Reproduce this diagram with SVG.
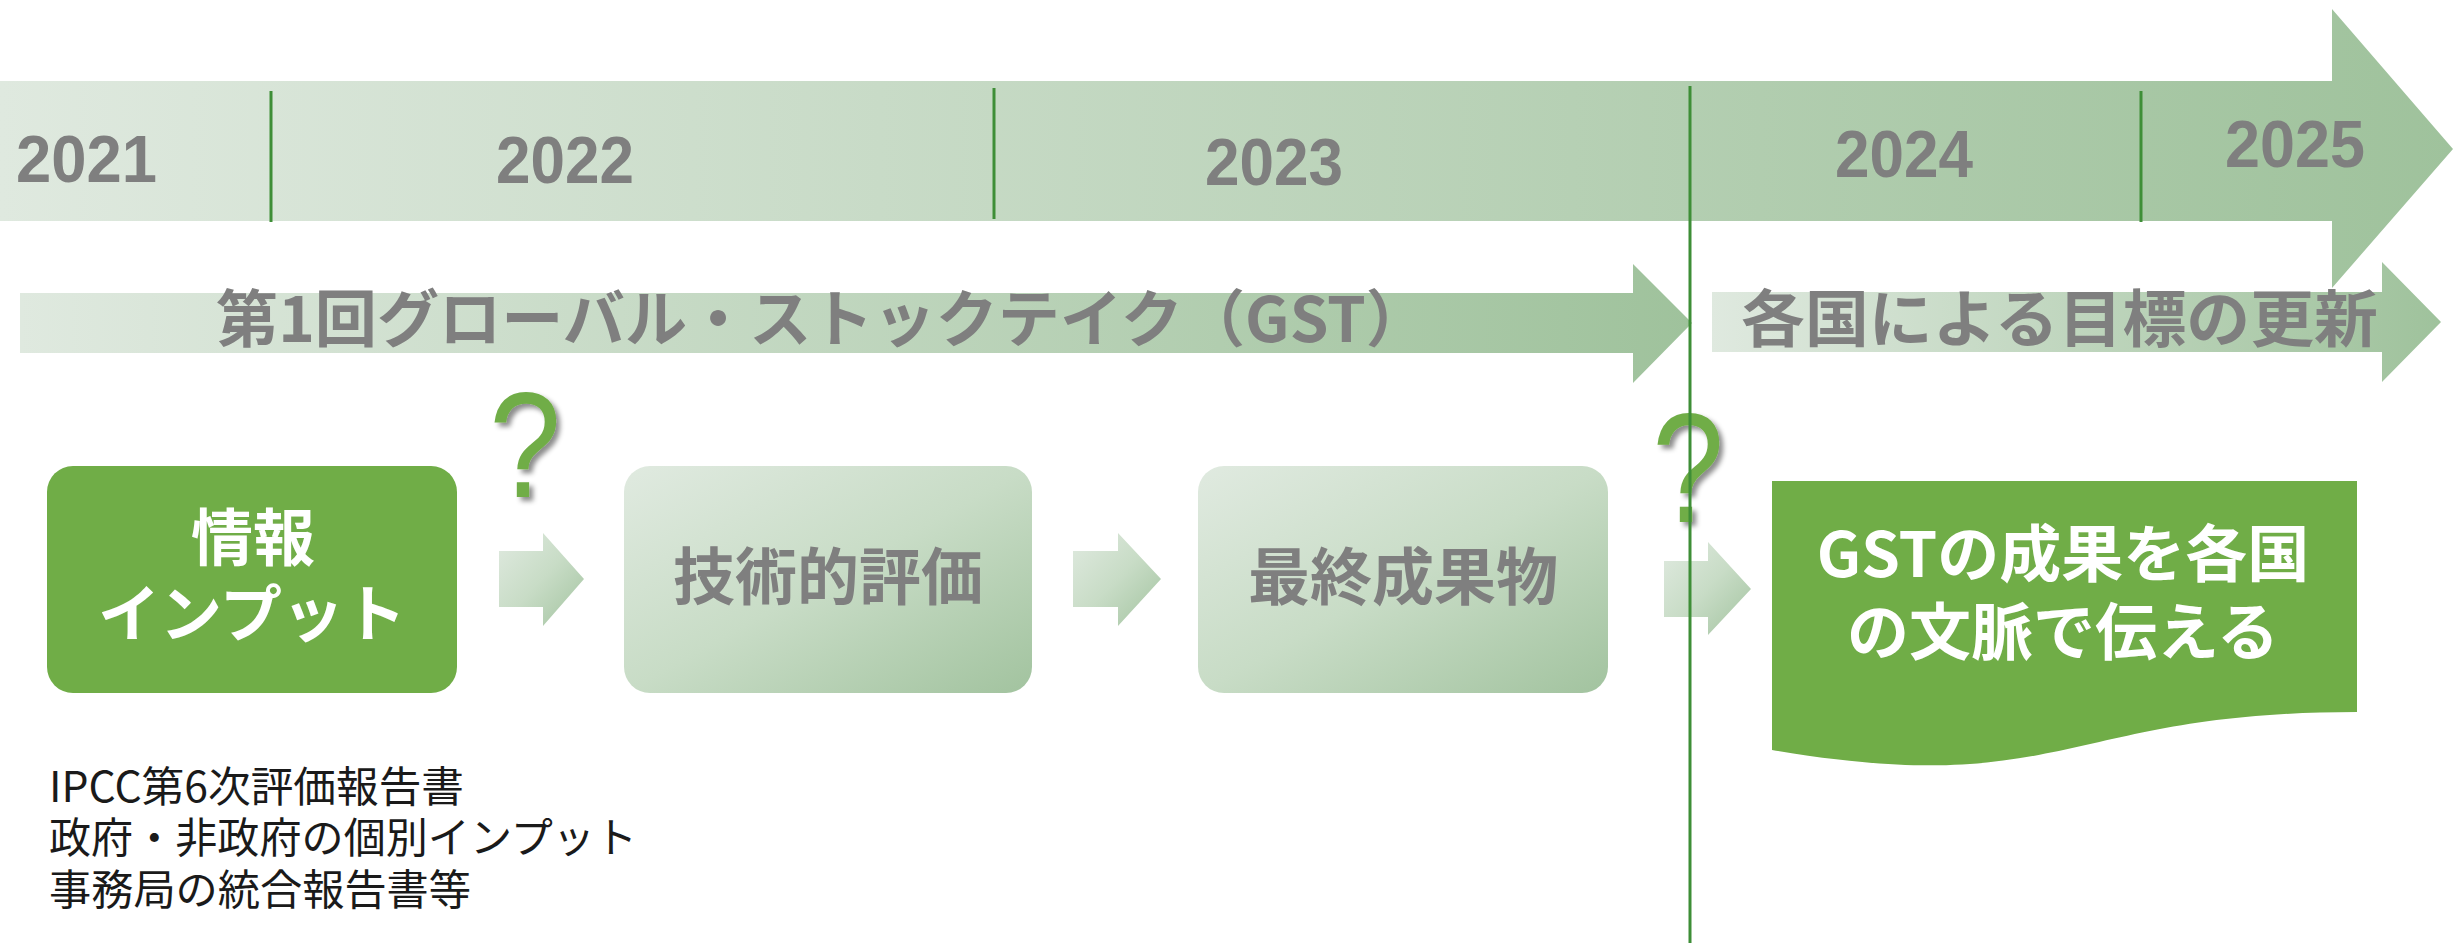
<svg xmlns="http://www.w3.org/2000/svg" width="2453" height="943" viewBox="0 0 2453 943">
  <defs>
    <linearGradient id="gH" x1="0" y1="0" x2="1" y2="0">
      <stop offset="0" stop-color="#dfe9df"/>
      <stop offset="1" stop-color="#9fc29c"/>
    </linearGradient>
    <linearGradient id="gD" x1="0" y1="0" x2="1" y2="1">
      <stop offset="0" stop-color="#e0eae0"/>
      <stop offset="0.5" stop-color="#c8dcc6"/>
      <stop offset="1" stop-color="#a2c39f"/>
    </linearGradient>
    <filter id="sh" x="-30%" y="-30%" width="160%" height="160%">
      <feDropShadow dx="4" dy="4" stdDeviation="2.5" flood-color="#000" flood-opacity="0.45"/>
    </filter>
    <style>
      .yr { font-family: "Liberation Sans", Arial, sans-serif; font-weight: bold; font-size: 66px; fill: #7f7f7f; }
      .lbl { font-family: "Noto Sans CJK JP", "Liberation Sans", sans-serif; font-weight: bold; font-size: 62px; fill: #7f7f7f; }
      .wt { font-family: "Noto Sans CJK JP", "Liberation Sans", sans-serif; font-weight: bold; font-size: 62px; fill: #ffffff; text-anchor: middle; }
      .gt { font-family: "Noto Sans CJK JP", "Liberation Sans", sans-serif; font-weight: bold; font-size: 62px; fill: #7f7f7f; text-anchor: middle; }
      .note { font-family: "Noto Sans CJK JP", "Liberation Sans", sans-serif; font-size: 42px; fill: #1a1a1a; }
      .q { font-family: "Liberation Sans", Arial, sans-serif; font-size: 150px; fill: #70ad47; text-anchor: middle; }
      .vl { stroke: #3e8e37; stroke-width: 3; fill: none; }
    </style>
  </defs>

  <g id="timeline">
    <polygon points="0,81 2332,81 2332,9 2453,149 2332,288 2332,221 0,221" fill="url(#gH)"/>
    <text class="yr" x="16" y="182" textLength="141" lengthAdjust="spacingAndGlyphs">2021</text>
    <text class="yr" x="496" y="183" textLength="138" lengthAdjust="spacingAndGlyphs">2022</text>
    <text class="yr" x="1205" y="185" textLength="138" lengthAdjust="spacingAndGlyphs">2023</text>
    <text class="yr" x="1835" y="177" textLength="138" lengthAdjust="spacingAndGlyphs">2024</text>
    <text class="yr" x="2225" y="167" textLength="140" lengthAdjust="spacingAndGlyphs">2025</text>
  </g>

  <g id="gst-arrow">
    <polygon points="20,293 1633,293 1633,264 1692,323 1633,383 1633,353 20,353" fill="url(#gH)"/>
    <text class="lbl" x="216" y="342" textLength="1212" lengthAdjust="spacingAndGlyphs">第1回グローバル・ストックテイク（GST）</text>
  </g>

  <g id="update-arrow">
    <polygon points="1712,292 2382,292 2382,262 2441,322 2382,382 2382,352 1712,352" fill="url(#gH)"/>
    <text class="lbl" x="1741" y="342" textLength="637" lengthAdjust="spacingAndGlyphs">各国による目標の更新</text>
  </g>

  <g id="info-input">
    <rect x="47" y="466" width="410" height="227" rx="26" fill="#70ad47"/>
    <text class="wt" x="253" y="561">情報</text>
    <text class="wt" x="252" y="637">インプット</text>
  </g>

  <g id="tech-assessment">
    <rect x="624" y="466" width="408" height="227" rx="26" fill="url(#gD)"/>
    <text class="gt" x="828" y="600">技術的評価</text>
  </g>

  <g id="final-output">
    <rect x="1198" y="466" width="410" height="227" rx="26" fill="url(#gD)"/>
    <text class="gt" x="1403" y="600">最終成果物</text>
  </g>

  <g id="convey">
    <path d="M1772,481 H2357 V712 C2064.5,712 2064.5,800 1772,750 Z" fill="#70ad47"/>
    <text class="wt" x="2063" y="577">GSTの成果を各国</text>
    <text class="wt" x="2063" y="655">の文脈で伝える</text>
  </g>

  <g id="notes">
    <text class="note" x="49" y="802" textLength="415" lengthAdjust="spacingAndGlyphs">IPCC第6次評価報告書</text>
    <text class="note" x="49" y="853" textLength="588" lengthAdjust="spacingAndGlyphs">政府・非政府の個別インプット</text>
    <text class="note" x="49" y="905" textLength="422" lengthAdjust="spacingAndGlyphs">事務局の統合報告書等</text>
  </g>

  <g id="connectors">
    <polygon points="499,551 543,551 543,533 584,579 543,626 543,607 499,607" fill="url(#gD)"/>
    <polygon points="1073,551 1118,551 1118,533 1161,579 1118,626 1118,607 1073,607" fill="url(#gD)"/>
    <polygon points="1664,561 1708,561 1708,542 1751,589 1708,635 1708,617 1664,617" fill="url(#gD)"/>
  </g>

  <g id="questions" filter="url(#sh)">
    <text class="q" transform="translate(525,497) scale(0.86,1)" x="0" y="0">?</text>
    <text class="q" transform="translate(1688,522) scale(0.86,1.04)" x="0" y="0">?</text>
  </g>

  <g id="year-dividers">
    <line class="vl" x1="271" y1="91" x2="271" y2="222"/>
    <line class="vl" x1="994" y1="88" x2="994" y2="219"/>
    <line class="vl" x1="2141" y1="91" x2="2141" y2="222"/>
    <line class="vl" x1="1690" y1="86" x2="1690" y2="943"/>
  </g>
</svg>
